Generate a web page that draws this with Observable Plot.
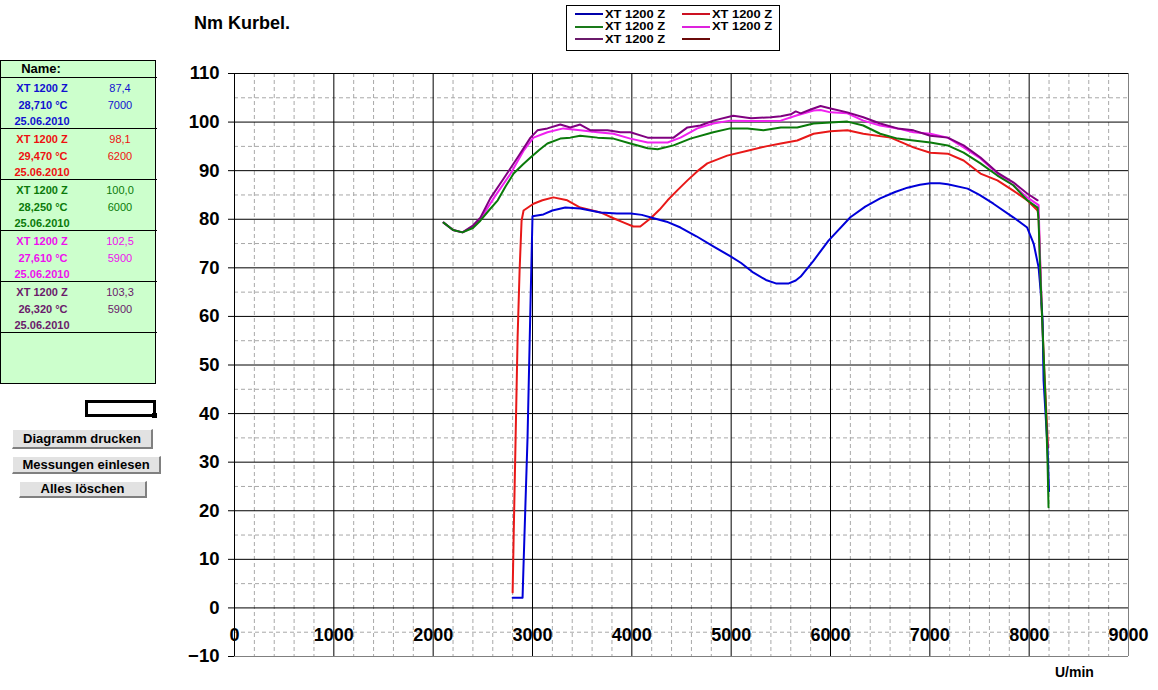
<!DOCTYPE html>
<html lang="de">
<head>
<meta charset="utf-8">
<script src="https://cdn.jsdelivr.net/npm/d3@7"></script>
<script src="https://cdn.jsdelivr.net/npm/@observablehq/plot@0.6"></script>
<style>
html,body{margin:0;padding:0;background:#fff;}
body{font-family:"Liberation Sans",Arial,sans-serif;color:#000;}
#wrap{position:relative;width:1158px;height:690px;overflow:hidden;}
#chart{position:absolute;left:0;top:0;}
.abs{position:absolute;white-space:nowrap;}
#title{left:194px;top:12px;font-size:18px;font-weight:bold;line-height:22px;}
#xlabel{left:1055px;top:663px;font-size:14px;font-weight:bold;line-height:18px;}
#legend{left:566px;top:5px;width:214px;height:46px;border:1px solid #000;background:#fff;box-sizing:border-box;}
#panel{left:0;top:60px;width:156px;height:324px;background:#ccffcc;border:1px solid #000;box-sizing:border-box;}
.cell{position:absolute;font-size:11px;line-height:14px;height:14px;text-align:center;white-space:nowrap;}
.hline{position:absolute;left:0;height:1px;background:#000;}
.btn{position:absolute;background:#e2e2e2;border-top:1px solid #fff;border-left:1px solid #fff;border-right:2px solid #808080;border-bottom:2px solid #808080;box-sizing:border-box;font-size:13px;font-weight:bold;text-align:center;white-space:nowrap;}
.lg{position:absolute;font-size:11px;font-weight:bold;line-height:11px;height:11px;white-space:nowrap;transform:scaleX(1.17);transform-origin:0 50%;}
.lgline{position:absolute;height:2px;}
</style>
</head>
<body>
<div id="wrap">
  <div id="chart"></div>
  <div id="title" class="abs">Nm Kurbel.</div>
  <div id="xlabel" class="abs">U/min</div>
  <div id="legend" class="abs"></div>
  <div id="panel" class="abs"></div>
  <div id="buttons"></div>
</div>
<script>
// ---------- data ----------
const seriesNames = ["XT 1200 Z", "XT 1200 Z", "XT 1200 Z", "XT 1200 Z", "XT 1200 Z"];
const seriesColors = ["#0000d8", "#e81818", "#0a7a0a", "#f020f0", "#800080"];
const panelColors = ["#1010d0", "#ee1010", "#0a7a0a", "#ee10ee", "#6a1a6a"];
const peakNm = ["87,4", "98,1", "100,0", "102,5", "103,3"];
const peakRpm = ["7000", "6200", "6000", "5900", "5900"];
const temps = ["28,710 °C", "29,470 °C", "28,250 °C", "27,610 °C", "26,320 °C"];
const dates = ["25.06.2010", "25.06.2010", "25.06.2010", "25.06.2010", "25.06.2010"];
const legendLabels = ["XT 1200 Z", "XT 1200 Z", "XT 1200 Z", "XT 1200 Z", "XT 1200 Z", ""];
const legendColors = ["#0000aa", "#cc1122", "#1a7a1a", "#dd22dd", "#6a1a6a", "#6a0a0a"];
const buttonLabels = ["Diagramm drucken", "Messungen einlesen", "Alles löschen"];

const xTicks = [0, 1000, 2000, 3000, 4000, 5000, 6000, 7000, 8000, 9000];
const yTicks = [-10, 0, 10, 20, 30, 40, 50, 60, 70, 80, 90, 100, 110];

// [U/min, Nm]
const blue = [[2800,2.1],[2900,2.1],[2910,9],[2950,35],[2980,62.7],[3000,80.6],[3110,81.0],[3200,81.8],[3330,82.4],[3480,82.2],[3685,81.4],[3850,81.2],[3990,81.2],[4100,80.9],[4220,80.2],[4350,79.5],[4490,78.3],[4650,76.5],[4820,74.4],[4990,72.4],[5100,71.0],[5225,69.0],[5350,67.5],[5450,66.8],[5580,66.8],[5650,67.4],[5700,68.2],[5830,71.5],[5980,75.6],[6200,80.4],[6350,82.6],[6500,84.3],[6650,85.6],[6775,86.5],[6900,87.1],[7005,87.4],[7100,87.4],[7180,87.2],[7380,86.3],[7500,85.0],[7640,83.2],[7840,80.4],[7980,78.3],[8045,75.0],[8095,70.1],[8115,65.3],[8135,59.2],[8145,46.8],[8185,33],[8200,24]];
const red = [[2800,3.2],[2810,14.5],[2830,35],[2850,55.6],[2870,69.4],[2890,79.7],[2910,81.8],[3010,83.2],[3100,83.9],[3210,84.5],[3350,83.9],[3480,82.4],[3685,81.4],[3815,80.2],[3920,79.3],[4015,78.5],[4085,78.5],[4190,80.2],[4280,82.0],[4360,83.9],[4460,86.0],[4560,88.0],[4660,89.9],[4760,91.5],[4960,93.1],[5165,94.1],[5350,95.0],[5500,95.6],[5665,96.2],[5830,97.6],[6000,98.1],[6170,98.3],[6330,97.6],[6605,96.8],[6835,94.8],[7005,93.7],[7180,93.5],[7340,92.1],[7510,89.4],[7680,88.0],[7840,85.9],[7980,83.9],[8085,81.8],[8095,80.4],[8120,65],[8150,50],[8190,33]];
const green = [[2105,79.3],[2200,77.8],[2295,77.3],[2400,78.2],[2475,79.7],[2560,81.8],[2650,83.9],[2730,86.8],[2810,89.4],[2900,91.2],[2980,92.7],[3070,94.3],[3150,95.6],[3280,96.6],[3380,96.8],[3480,97.2],[3655,96.8],[3815,96.6],[3985,95.6],[4160,94.6],[4260,94.4],[4420,95.2],[4590,96.6],[4820,97.9],[4990,98.7],[5165,98.7],[5325,98.3],[5500,98.9],[5665,98.9],[5830,99.7],[6000,99.9],[6170,100.1],[6330,99.3],[6500,97.6],[6675,96.6],[6835,96.2],[7005,95.8],[7180,95.2],[7340,93.7],[7510,91.5],[7680,89.0],[7840,87.0],[7980,83.9],[8085,82.4],[8095,79.7],[8110,70],[8130,60],[8150,50],[8170,40],[8185,30],[8195,20.7]];
const magenta = [[2105,79.3],[2200,77.8],[2295,77.3],[2400,78.5],[2475,80.0],[2615,84.5],[2780,89.4],[2910,94.1],[3010,96.8],[3150,97.9],[3310,98.7],[3480,98.3],[3655,97.9],[3815,97.6],[3985,96.6],[4160,95.8],[4360,95.8],[4490,96.8],[4660,98.7],[4820,99.7],[4990,100.3],[5200,100.2],[5500,100.3],[5665,101.4],[5830,102.4],[5900,102.5],[6000,102.0],[6170,101.8],[6330,100.3],[6500,99.3],[6675,98.7],[6835,97.9],[7005,97.6],[7180,96.8],[7340,94.8],[7510,92.5],[7680,89.4],[7840,87.0],[7980,84.5],[8095,82.9],[8110,72],[8125,63]];
const purple = [[2105,79.3],[2200,77.8],[2295,77.3],[2400,78.7],[2475,80.3],[2575,84.3],[2710,88.4],[2850,92.7],[2980,96.8],[3050,98.3],[3150,98.7],[3280,99.5],[3380,98.9],[3480,99.5],[3585,98.3],[3755,98.3],[3885,97.9],[3985,97.9],[4160,96.8],[4420,96.8],[4560,98.9],[4690,99.3],[4820,100.3],[5020,101.3],[5200,100.8],[5400,101.0],[5500,101.2],[5600,101.6],[5650,102.2],[5700,101.8],[5800,102.6],[5900,103.3],[6000,102.8],[6170,102.0],[6330,101.0],[6500,99.7],[6675,98.7],[6835,98.3],[7005,97.2],[7180,96.8],[7340,95.2],[7510,92.7],[7680,89.6],[7840,87.6],[7980,85.3],[8085,83.9]];

const curves = [blue, red, green, magenta, purple];
const drawOrder = [1, 0, 3, 4, 2];

// ---------- chart ----------
const xMinor = [];
for (let i = 0; i < xTicks.length - 1; i++)
  for (let k = 1; k < 5; k++) xMinor.push(xTicks[i] + (xTicks[i + 1] - xTicks[i]) * k / 5);
const yMinor = yTicks.slice(0, -1).map((v, i) => (v + yTicks[i + 1]) / 2);

const chart = Plot.plot({
  width: 1158,
  height: 690,
  marginLeft: 234,
  marginRight: 30,
  marginTop: 73,
  marginBottom: 34,
  style: {fontFamily: "'Liberation Sans', Arial, sans-serif", color: "#000", background: "transparent", overflow: "visible"},
  x: {domain: [xTicks[0], xTicks[xTicks.length - 1]], axis: null},
  y: {domain: [yTicks[0], yTicks[yTicks.length - 1]], axis: null},
  marks: [
    Plot.ruleX(xMinor, {stroke: "#a8a8a8", strokeDasharray: "4,3"}),
    Plot.ruleY(yMinor, {stroke: "#a8a8a8", strokeDasharray: "4,3"}),
    Plot.ruleX(xTicks.slice(0, -1), {stroke: "#000"}),
    Plot.ruleX(xTicks.slice(-1), {stroke: "#808080"}),
    Plot.ruleY(yTicks.slice(1), {stroke: "#000"}),
    Plot.ruleY(yTicks.slice(0, 1), {stroke: "#808080"}),
    Plot.axisY(yTicks, {anchor: "left", tickSize: 6, tickPadding: 9, fontSize: 18.5, fontWeight: "bold", label: null, stroke: "#000"}),
    Plot.text(xTicks, {x: d => d, y: -5.7, text: d => String(d), fontSize: 18, fontWeight: "bold", fill: "#000"}),
    ...drawOrder.map(i => Plot.line(curves[i], {x: d => d[0], y: d => d[1], stroke: seriesColors[i], strokeWidth: 2}))
  ]
});
document.getElementById("chart").appendChild(chart);

// ---------- legend ----------
const legend = document.getElementById("legend");
const legRows = [8, 20.5, 33];
const legCols = [{line: 8, text: 38}, {line: 115, text: 145}];
legendLabels.forEach((lab, i) => {
  const r = Math.floor(i / 2), c = i % 2;
  const ln = document.createElement("div");
  ln.className = "lgline";
  ln.style.left = legCols[c].line + "px";
  ln.style.width = "28px";
  ln.style.top = (legRows[r] - 1) + "px";
  ln.style.background = legendColors[i];
  legend.appendChild(ln);
  if (lab) {
    const t = document.createElement("div");
    t.className = "lg";
    t.textContent = lab;
    t.style.left = legCols[c].text + "px";
    t.style.top = (legRows[r] - 5.5) + "px";
    legend.appendChild(t);
  }
});

// ---------- left panel ----------
const panel = document.getElementById("panel");
function cell(text, cx, cy, color, bold, size) {
  const d = document.createElement("div");
  d.className = "cell";
  d.textContent = text;
  d.style.left = (cx - 40) + "px";
  d.style.width = "80px";
  d.style.top = (cy - 7) + "px";
  d.style.color = color;
  d.style.fontWeight = bold ? "bold" : "normal";
  if (size) d.style.fontSize = size + "px";
  panel.appendChild(d);
}
cell("Name:", 40, 8, "#000", true, 13);
const blockTops = [17, 68, 119, 170, 221];
function hline(y) {
  const l = document.createElement("div");
  l.className = "hline";
  l.style.top = y + "px";
  l.style.width = "156px";
  panel.appendChild(l);
}
hline(16);
seriesNames.forEach((n, i) => {
  const t = blockTops[i];
  cell(n, 41, t + 10, panelColors[i], true);
  cell(peakNm[i], 119, t + 10, panelColors[i], false);
  cell(temps[i], 42, t + 27, panelColors[i], true);
  cell(peakRpm[i], 119, t + 27, panelColors[i], false);
  cell(dates[i], 41, t + 43, panelColors[i], true);
  hline(t + 50);
});

// ---------- small box & buttons ----------
const wrap = document.getElementById("wrap");
const box = document.createElement("div");
box.className = "abs";
Object.assign(box.style, {left: "85px", top: "400px", width: "71px", height: "17px", border: "3px solid #000", boxSizing: "border-box", background: "#fff"});
wrap.appendChild(box);
const sq = document.createElement("div");
sq.className = "abs";
Object.assign(sq.style, {left: "152px", top: "413px", width: "5px", height: "5px", background: "#000"});
wrap.appendChild(sq);

const btnGeom = [
  {l: 12, t: 429, w: 141, h: 20},
  {l: 12, t: 456, w: 149, h: 18},
  {l: 19, t: 481, w: 128, h: 17}
];
buttonLabels.forEach((b, i) => {
  const g = btnGeom[i];
  const d = document.createElement("div");
  d.className = "btn";
  d.textContent = b;
  Object.assign(d.style, {left: g.l + "px", top: g.t + "px", width: g.w + "px", height: g.h + "px", lineHeight: (g.h - 3) + "px"});
  wrap.appendChild(d);
});
</script>
</body>
</html>
